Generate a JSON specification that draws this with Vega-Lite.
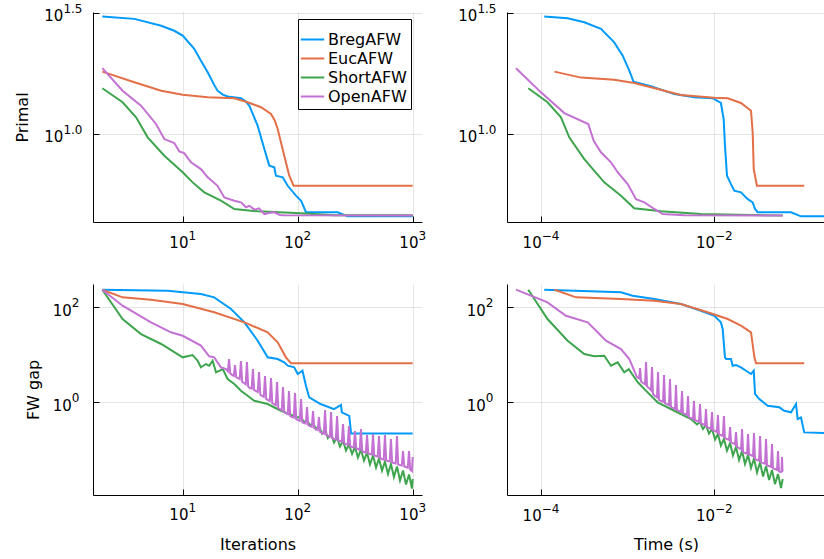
{
"$schema": "https://vega.github.io/schema/vega-lite/v6.json",
"background": "white",
"padding": {"left": 14, "top": 2, "right": 0, "bottom": 0},
"bounds": "flush",
"spacing": {"row": 62, "column": 85},
"columns": 2,
"resolve": {"legend": {"color": "independent"}},
"config": {
  "font": "DejaVu Sans",
  "view": {"stroke": null},
  "text": {"font": "DejaVu Sans", "color": "black"},
  "axis": {"domainColor": "black", "domainWidth": 1, "tickColor": "black", "tickSize": -6, "tickWidth": 1,
    "gridColor": "black", "gridOpacity": 0.1, "gridWidth": 1, "labels": false,
    "titleFont": "DejaVu Sans", "titleFontSize": 16, "titleFontWeight": "normal", "titleColor": "black"},
  "legend": {"strokeWidth": 1}
},
"datasets": {
"ticksIter": [{"v":10,"e":"1"},{"v":100,"e":"2"},{"v":1000,"e":"3"}],
"ticksTime": [{"v":0.0001,"e":"−4"},{"v":0.01,"e":"−2"}],
"ticksPrimal": [{"v":10,"e":"1.0"},{"v":31.6228,"e":"1.5"}],
"ticksGap": [{"v":1,"e":"0"},{"v":100,"e":"2"}],
"primalIter": [
{"s":"BregAFW","iter":2,"primal":30.6},{"s":"BregAFW","iter":3.8,"primal":29.9},{"s":"BregAFW","iter":6.5,"primal":28.0},{"s":"BregAFW","iter":8.45,"primal":26.7},{"s":"BregAFW","iter":10,"primal":25.5},{"s":"BregAFW","iter":12.6,"primal":22.5},{"s":"BregAFW","iter":14.5,"primal":20.0},{"s":"BregAFW","iter":16.5,"primal":18.0},{"s":"BregAFW","iter":18.8,"primal":15.94},{"s":"BregAFW","iter":20.1,"primal":15.1},{"s":"BregAFW","iter":22.3,"primal":14.55},{"s":"BregAFW","iter":24.6,"primal":14.3},{"s":"BregAFW","iter":32.1,"primal":14.05},{"s":"BregAFW","iter":35,"primal":13.7},{"s":"BregAFW","iter":37.9,"primal":13.1},{"s":"BregAFW","iter":41,"primal":12.0},{"s":"BregAFW","iter":44.9,"primal":10.8},{"s":"BregAFW","iter":51.3,"primal":8.67},{"s":"BregAFW","iter":56.6,"primal":7.4},{"s":"BregAFW","iter":62.6,"primal":7.28},{"s":"BregAFW","iter":64.7,"primal":6.73},{"s":"BregAFW","iter":74.1,"primal":6.62},{"s":"BregAFW","iter":81.9,"primal":6.11},{"s":"BregAFW","iter":96.6,"primal":5.56},{"s":"BregAFW","iter":107,"primal":5.30},{"s":"BregAFW","iter":110,"primal":5.14},{"s":"BregAFW","iter":118,"primal":4.75},{"s":"BregAFW","iter":223,"primal":4.75},{"s":"BregAFW","iter":272,"primal":4.57},{"s":"BregAFW","iter":1000,"primal":4.57},
{"s":"EucAFW","iter":2,"primal":18.1},{"s":"EucAFW","iter":3.8,"primal":16.35},{"s":"EucAFW","iter":6.5,"primal":15.1},{"s":"EucAFW","iter":10,"primal":14.54},{"s":"EucAFW","iter":16.5,"primal":14.18},{"s":"EucAFW","iter":28.1,"primal":14.05},{"s":"EucAFW","iter":36.7,"primal":13.52},{"s":"EucAFW","iter":48,"primal":12.9},{"s":"EucAFW","iter":58.6,"primal":12.1},{"s":"EucAFW","iter":63,"primal":11.4},{"s":"EucAFW","iter":67,"primal":10.49},{"s":"EucAFW","iter":76.4,"primal":8.13},{"s":"EucAFW","iter":84.5,"primal":6.73},{"s":"EucAFW","iter":92.2,"primal":6.11},{"s":"EucAFW","iter":1000,"primal":6.11},
{"s":"ShortAFW","iter":2,"primal":15.45},{"s":"ShortAFW","iter":3.0,"primal":13.52},{"s":"ShortAFW","iter":3.93,"primal":11.72},{"s":"ShortAFW","iter":4.96,"primal":9.69},{"s":"ShortAFW","iter":6.92,"primal":8.13},{"s":"ShortAFW","iter":10,"primal":6.95},{"s":"ShortAFW","iter":12.2,"primal":6.31},{"s":"ShortAFW","iter":15.4,"primal":5.74},{"s":"ShortAFW","iter":21.5,"primal":5.30},{"s":"ShortAFW","iter":28.1,"primal":4.90},{"s":"ShortAFW","iter":44.9,"primal":4.79},{"s":"ShortAFW","iter":107,"primal":4.70},{"s":"ShortAFW","iter":208,"primal":4.62},{"s":"ShortAFW","iter":1000,"primal":4.62},
{"s":"OpenAFW","iter":2,"primal":18.7},{"s":"OpenAFW","iter":3.0,"primal":15.1},{"s":"OpenAFW","iter":4.34,"primal":13.1},{"s":"OpenAFW","iter":5.86,"primal":11.0},{"s":"OpenAFW","iter":6.92,"primal":9.53},{"s":"OpenAFW","iter":8.45,"primal":9.18},{"s":"OpenAFW","iter":9.33,"primal":8.48},{"s":"OpenAFW","iter":10.3,"primal":8.34},{"s":"OpenAFW","iter":11.8,"primal":7.64},{"s":"OpenAFW","iter":14.4,"primal":7.16},{"s":"OpenAFW","iter":16.5,"primal":6.62},{"s":"OpenAFW","iter":20.1,"primal":6.11},{"s":"OpenAFW","iter":23.0,"primal":5.47},{"s":"OpenAFW","iter":28.1,"primal":5.30},{"s":"OpenAFW","iter":32.1,"primal":5.22},{"s":"OpenAFW","iter":35.5,"primal":4.98},{"s":"OpenAFW","iter":38,"primal":5.05},{"s":"OpenAFW","iter":42,"primal":4.87},{"s":"OpenAFW","iter":46,"primal":4.93},{"s":"OpenAFW","iter":51.3,"primal":4.67},{"s":"OpenAFW","iter":56,"primal":4.72},{"s":"OpenAFW","iter":62.6,"primal":4.75},{"s":"OpenAFW","iter":70,"primal":4.63},{"s":"OpenAFW","iter":76.4,"primal":4.62},{"s":"OpenAFW","iter":1000,"primal":4.60}
],
"primalTime": [
{"s":"BregAFW","time":0.000109,"primal":30.6},{"s":"BregAFW","time":0.000203,"primal":30.1},{"s":"BregAFW","time":0.000316,"primal":28.95},{"s":"BregAFW","time":0.000492,"primal":27.2},{"s":"BregAFW","time":0.0007,"primal":23.9},{"s":"BregAFW","time":0.000877,"primal":21.07},{"s":"BregAFW","time":0.001045,"primal":18.27},{"s":"BregAFW","time":0.00117,"primal":16.44},{"s":"BregAFW","time":0.00186,"primal":15.74},{"s":"BregAFW","time":0.00345,"primal":14.62},{"s":"BregAFW","time":0.00587,"primal":14.18},{"s":"BregAFW","time":0.00957,"primal":14.05},{"s":"BregAFW","time":0.0119,"primal":13.43},{"s":"BregAFW","time":0.01282,"primal":11.53},{"s":"BregAFW","time":0.01327,"primal":8.95},{"s":"BregAFW","time":0.014,"primal":6.73},{"s":"BregAFW","time":0.01556,"primal":6.21},{"s":"BregAFW","time":0.017,"primal":5.83},{"s":"BregAFW","time":0.0203,"primal":5.74},{"s":"BregAFW","time":0.0243,"primal":5.38},{"s":"BregAFW","time":0.0277,"primal":5.22},{"s":"BregAFW","time":0.0295,"primal":4.9},{"s":"BregAFW","time":0.0316,"primal":4.75},{"s":"BregAFW","time":0.0767,"primal":4.75},{"s":"BregAFW","time":0.1,"primal":4.57},{"s":"BregAFW","time":0.189,"primal":4.57},
{"s":"EucAFW","time":0.000143,"primal":18.1},{"s":"EucAFW","time":0.00029,"primal":17.1},{"s":"EucAFW","time":0.0007,"primal":16.75},{"s":"EucAFW","time":0.00119,"primal":16.25},{"s":"EucAFW","time":0.00222,"primal":15.35},{"s":"EucAFW","time":0.00412,"primal":14.5},{"s":"EucAFW","time":0.01,"primal":14.12},{"s":"EucAFW","time":0.01426,"primal":14.05},{"s":"EucAFW","time":0.0203,"primal":13.43},{"s":"EucAFW","time":0.0265,"primal":12.48},{"s":"EucAFW","time":0.0277,"primal":10.16},{"s":"EucAFW","time":0.0285,"primal":7.16},{"s":"EucAFW","time":0.031,"primal":6.11},{"s":"EucAFW","time":0.109,"primal":6.11},
{"s":"ShortAFW","time":0.0000714,"primal":15.45},{"s":"ShortAFW","time":0.000119,"primal":13.52},{"s":"ShortAFW","time":0.00017,"primal":11.72},{"s":"ShortAFW","time":0.000212,"primal":9.69},{"s":"ShortAFW","time":0.000316,"primal":7.88},{"s":"ShortAFW","time":0.000537,"primal":6.31},{"s":"ShortAFW","time":0.000838,"primal":5.56},{"s":"ShortAFW","time":0.00119,"primal":4.93},{"s":"ShortAFW","time":0.00243,"primal":4.79},{"s":"ShortAFW","time":0.007,"primal":4.67},{"s":"ShortAFW","time":0.0615,"primal":4.60},
{"s":"OpenAFW","time":0.0000515,"primal":18.7},{"s":"OpenAFW","time":0.0001,"primal":14.86},{"s":"OpenAFW","time":0.000186,"primal":12.2},{"s":"OpenAFW","time":0.000351,"primal":11.0},{"s":"OpenAFW","time":0.000406,"primal":9.38},{"s":"OpenAFW","time":0.000492,"primal":8.40},{"s":"OpenAFW","time":0.000642,"primal":7.64},{"s":"OpenAFW","time":0.000767,"primal":6.95},{"s":"OpenAFW","time":0.001,"primal":6.21},{"s":"OpenAFW","time":0.00125,"primal":5.38},{"s":"OpenAFW","time":0.00156,"primal":5.22},{"s":"OpenAFW","time":0.00203,"primal":4.9},{"s":"OpenAFW","time":0.00254,"primal":4.67},{"s":"OpenAFW","time":0.0045,"primal":4.62},{"s":"OpenAFW","time":0.0615,"primal":4.60}
],
"gapIter": [
{"s":"BregAFW","iter":2,"gap":235},{"s":"BregAFW","iter":7.4,"gap":224},{"s":"BregAFW","iter":14.4,"gap":190},{"s":"BregAFW","iter":18.8,"gap":162},{"s":"BregAFW","iter":26.3,"gap":92},{"s":"BregAFW","iter":34.4,"gap":48.3},{"s":"BregAFW","iter":44.9,"gap":19.8},{"s":"BregAFW","iter":54.8,"gap":8.85},{"s":"BregAFW","iter":67,"gap":8.16},{"s":"BregAFW","iter":76.4,"gap":6.95},{"s":"BregAFW","iter":81.9,"gap":5.9},{"s":"BregAFW","iter":93.3,"gap":5.46},{"s":"BregAFW","iter":100,"gap":3.94},{"s":"BregAFW","iter":110,"gap":4.63},{"s":"BregAFW","iter":118,"gap":2.24},{"s":"BregAFW","iter":126,"gap":1.27},{"s":"BregAFW","iter":158,"gap":0.92},{"s":"BregAFW","iter":207,"gap":0.72},{"s":"BregAFW","iter":238,"gap":0.88},{"s":"BregAFW","iter":242,"gap":0.615},{"s":"BregAFW","iter":281,"gap":0.52},{"s":"BregAFW","iter":291,"gap":0.222},{"s":"BregAFW","iter":1000,"gap":0.222},
{"s":"EucAFW","iter":2,"gap":235},{"s":"EucAFW","iter":3.0,"gap":162},{"s":"EucAFW","iter":5.3,"gap":145},{"s":"EucAFW","iter":10,"gap":117.5},{"s":"EucAFW","iter":18.8,"gap":78.5},{"s":"EucAFW","iter":34.4,"gap":48.3},{"s":"EucAFW","iter":54.8,"gap":29.8},{"s":"EucAFW","iter":67,"gap":18.3},{"s":"EucAFW","iter":79,"gap":8.85},{"s":"EucAFW","iter":87.5,"gap":6.62},{"s":"EucAFW","iter":1000,"gap":6.62},
{"s":"ShortAFW","iter":2,"gap":235},{"s":"ShortAFW","iter":3.0,"gap":56.7},{"s":"ShortAFW","iter":4.34,"gap":27.4},{"s":"ShortAFW","iter":6.5,"gap":16.9},{"s":"ShortAFW","iter":10,"gap":8.85},{"s":"ShortAFW","iter":12.2,"gap":9.91},{"s":"ShortAFW","iter":13.5,"gap":7.52},{"s":"ShortAFW","iter":14.4,"gap":5.46},{"s":"ShortAFW","iter":15.9,"gap":6.40},{"s":"ShortAFW","iter":17.0,"gap":5.9},{"s":"ShortAFW","iter":18.2,"gap":7.52},{"s":"ShortAFW","iter":19.5,"gap":4.28},{"s":"ShortAFW","iter":22.3,"gap":5.02},{"s":"ShortAFW","iter":24.6,"gap":3.10},{"s":"ShortAFW","iter":28.1,"gap":2.43},{"s":"ShortAFW","iter":32.1,"gap":1.75},{"s":"ShortAFW","iter":36.7,"gap":1.38},{"s":"ShortAFW","iter":41.9,"gap":1.08},{"s":"ShortAFW","iter":54.8,"gap":0.92},{"s":"ShortAFW","iter":71.5,"gap":0.665},{"s":"ShortAFW","iter":100,"gap":0.483},{"s":"ShortAFW","iter":106.9,"gap":0.479},{"s":"ShortAFW","iter":113.5,"gap":0.385},{"s":"ShortAFW","iter":120.5,"gap":0.424},{"s":"ShortAFW","iter":128,"gap":0.325},{"s":"ShortAFW","iter":136,"gap":0.367},{"s":"ShortAFW","iter":144,"gap":0.274},{"s":"ShortAFW","iter":153,"gap":0.317},{"s":"ShortAFW","iter":163,"gap":0.220},{"s":"ShortAFW","iter":173,"gap":0.261},{"s":"ShortAFW","iter":183,"gap":0.177},{"s":"ShortAFW","iter":195,"gap":0.220},{"s":"ShortAFW","iter":207,"gap":0.1425},{"s":"ShortAFW","iter":220,"gap":0.1815},{"s":"ShortAFW","iter":233,"gap":0.1173},{"s":"ShortAFW","iter":248,"gap":0.153},{"s":"ShortAFW","iter":263,"gap":0.0966},{"s":"ShortAFW","iter":279,"gap":0.1294},{"s":"ShortAFW","iter":297,"gap":0.0817},{"s":"ShortAFW","iter":315,"gap":0.1146},{"s":"ShortAFW","iter":334,"gap":0.0689},{"s":"ShortAFW","iter":355,"gap":0.1014},{"s":"ShortAFW","iter":377,"gap":0.0595},{"s":"ShortAFW","iter":401,"gap":0.0877},{"s":"ShortAFW","iter":425,"gap":0.0491},{"s":"ShortAFW","iter":452,"gap":0.0759},{"s":"ShortAFW","iter":480,"gap":0.0424},{"s":"ShortAFW","iter":509,"gap":0.0656},{"s":"ShortAFW","iter":541,"gap":0.0366},{"s":"ShortAFW","iter":574,"gap":0.0567},{"s":"ShortAFW","iter":610,"gap":0.031},{"s":"ShortAFW","iter":647,"gap":0.0502},{"s":"ShortAFW","iter":687,"gap":0.0267},{"s":"ShortAFW","iter":730,"gap":0.0445},{"s":"ShortAFW","iter":776,"gap":0.0226},{"s":"ShortAFW","iter":824,"gap":0.0366},{"s":"ShortAFW","iter":875,"gap":0.0186},{"s":"ShortAFW","iter":929,"gap":0.0302},{"s":"ShortAFW","iter":986,"gap":0.0153},{"s":"ShortAFW","iter":1000,"gap":0.0243},
{"s":"OpenAFW","iter":2,"gap":235},{"s":"OpenAFW","iter":3.0,"gap":108},{"s":"OpenAFW","iter":5.3,"gap":48.3},{"s":"OpenAFW","iter":7.9,"gap":29.8},{"s":"OpenAFW","iter":10,"gap":25.2},{"s":"OpenAFW","iter":14.4,"gap":15.6},{"s":"OpenAFW","iter":17.0,"gap":9.3},{"s":"OpenAFW","iter":18.8,"gap":8.85},{"s":"OpenAFW","iter":21.5,"gap":5.46},{"s":"OpenAFW","iter":23.8,"gap":5.02},{"s":"OpenAFW","iter":25.3,"gap":8.16},{"s":"OpenAFW","iter":26.8,"gap":3.76},{"s":"OpenAFW","iter":28.5,"gap":6.09},{"s":"OpenAFW","iter":30.3,"gap":3.25},{"s":"OpenAFW","iter":32.1,"gap":7.40},{"s":"OpenAFW","iter":34.1,"gap":2.55},{"s":"OpenAFW","iter":36.2,"gap":7.05},{"s":"OpenAFW","iter":38.5,"gap":2.0},{"s":"OpenAFW","iter":40.8,"gap":5.02},{"s":"OpenAFW","iter":43.4,"gap":1.73},{"s":"OpenAFW","iter":46.1,"gap":4.35},{"s":"OpenAFW","iter":49.0,"gap":1.36},{"s":"OpenAFW","iter":52.0,"gap":3.58},{"s":"OpenAFW","iter":55.2,"gap":1.12},{"s":"OpenAFW","iter":58.6,"gap":3.25},{"s":"OpenAFW","iter":62.2,"gap":0.92},{"s":"OpenAFW","iter":66.1,"gap":2.67},{"s":"OpenAFW","iter":70.2,"gap":0.723},{"s":"OpenAFW","iter":74.5,"gap":2.10},{"s":"OpenAFW","iter":79.1,"gap":0.595},{"s":"OpenAFW","iter":84.0,"gap":1.73},{"s":"OpenAFW","iter":89.2,"gap":0.491},{"s":"OpenAFW","iter":94.8,"gap":1.57},{"s":"OpenAFW","iter":100.7,"gap":0.424},{"s":"OpenAFW","iter":106.9,"gap":1.17},{"s":"OpenAFW","iter":113.5,"gap":0.367},{"s":"OpenAFW","iter":120.5,"gap":0.796},{"s":"OpenAFW","iter":128,"gap":0.317},{"s":"OpenAFW","iter":136,"gap":0.656},{"s":"OpenAFW","iter":144,"gap":0.274},{"s":"OpenAFW","iter":153,"gap":0.491},{"s":"OpenAFW","iter":163,"gap":0.226},{"s":"OpenAFW","iter":173,"gap":0.689},{"s":"OpenAFW","iter":183,"gap":0.195},{"s":"OpenAFW","iter":195,"gap":0.625},{"s":"OpenAFW","iter":207,"gap":0.169},{"s":"OpenAFW","iter":220,"gap":0.515},{"s":"OpenAFW","iter":233,"gap":0.153},{"s":"OpenAFW","iter":248,"gap":0.349},{"s":"OpenAFW","iter":263,"gap":0.132},{"s":"OpenAFW","iter":279,"gap":0.317},{"s":"OpenAFW","iter":297,"gap":0.115},{"s":"OpenAFW","iter":315,"gap":0.249},{"s":"OpenAFW","iter":334,"gap":0.104},{"s":"OpenAFW","iter":355,"gap":0.274},{"s":"OpenAFW","iter":377,"gap":0.0899},{"s":"OpenAFW","iter":401,"gap":0.205},{"s":"OpenAFW","iter":425,"gap":0.0817},{"s":"OpenAFW","iter":452,"gap":0.215},{"s":"OpenAFW","iter":480,"gap":0.0741},{"s":"OpenAFW","iter":509,"gap":0.195},{"s":"OpenAFW","iter":541,"gap":0.064},{"s":"OpenAFW","iter":574,"gap":0.205},{"s":"OpenAFW","iter":610,"gap":0.0581},{"s":"OpenAFW","iter":647,"gap":0.169},{"s":"OpenAFW","iter":687,"gap":0.0527},{"s":"OpenAFW","iter":730,"gap":0.195},{"s":"OpenAFW","iter":776,"gap":0.0479},{"s":"OpenAFW","iter":824,"gap":0.0944},{"s":"OpenAFW","iter":875,"gap":0.0434},{"s":"OpenAFW","iter":929,"gap":0.0944},{"s":"OpenAFW","iter":986,"gap":0.0358},{"s":"OpenAFW","iter":1000,"gap":0.0706},
{"s":"OpenAFW","iter":24.7,"gap":4.5},{"s":"OpenAFW","iter":25.9,"gap":4.1},{"s":"OpenAFW","iter":27.8,"gap":3.6},{"s":"OpenAFW","iter":29.2,"gap":3.4},{"s":"OpenAFW","iter":31.3,"gap":3.1},{"s":"OpenAFW","iter":32.9,"gap":2.7},{"s":"OpenAFW","iter":35.3,"gap":2.4},{"s":"OpenAFW","iter":37.1,"gap":2.15},{"s":"OpenAFW","iter":39.8,"gap":1.95},{"s":"OpenAFW","iter":41.8,"gap":1.8},{"s":"OpenAFW","iter":45.0,"gap":1.65},{"s":"OpenAFW","iter":47.3,"gap":1.45},{"s":"OpenAFW","iter":50.7,"gap":1.3},{"s":"OpenAFW","iter":53.3,"gap":1.17},{"s":"OpenAFW","iter":57.2,"gap":1.07},{"s":"OpenAFW","iter":60.1,"gap":0.96},{"s":"OpenAFW","iter":64.5,"gap":0.87},{"s":"OpenAFW","iter":67.8,"gap":0.76},{"s":"OpenAFW","iter":72.7,"gap":0.69},{"s":"OpenAFW","iter":76.4,"gap":0.62},{"s":"OpenAFW","iter":82.0,"gap":0.565},{"s":"OpenAFW","iter":86.1,"gap":0.515},{"s":"OpenAFW","iter":92.5,"gap":0.475},{"s":"OpenAFW","iter":97.2,"gap":0.44},{"s":"OpenAFW","iter":104.3,"gap":0.41},{"s":"OpenAFW","iter":109.6,"gap":0.38},{"s":"OpenAFW","iter":117.6,"gap":0.355},{"s":"OpenAFW","iter":123.5,"gap":0.33},{"s":"OpenAFW","iter":132.7,"gap":0.305},{"s":"OpenAFW","iter":139.4,"gap":0.285},{"s":"OpenAFW","iter":149.3,"gap":0.26},{"s":"OpenAFW","iter":156.8,"gap":0.238},{"s":"OpenAFW","iter":168.8,"gap":0.218},{"s":"OpenAFW","iter":177.3,"gap":0.203},{"s":"OpenAFW","iter":190.2,"gap":0.188},{"s":"OpenAFW","iter":199.9,"gap":0.175},{"s":"OpenAFW","iter":214.6,"gap":0.165},{"s":"OpenAFW","iter":225.5,"gap":0.157},{"s":"OpenAFW","iter":242,"gap":0.148},{"s":"OpenAFW","iter":254,"gap":0.137},{"s":"OpenAFW","iter":272,"gap":0.128},{"s":"OpenAFW","iter":286,"gap":0.119},{"s":"OpenAFW","iter":307,"gap":0.112},{"s":"OpenAFW","iter":323,"gap":0.107},{"s":"OpenAFW","iter":346,"gap":0.1},{"s":"OpenAFW","iter":364,"gap":0.093},{"s":"OpenAFW","iter":391,"gap":0.088},{"s":"OpenAFW","iter":411,"gap":0.084},{"s":"OpenAFW","iter":441,"gap":0.08},{"s":"OpenAFW","iter":463,"gap":0.076},{"s":"OpenAFW","iter":497,"gap":0.072},{"s":"OpenAFW","iter":522,"gap":0.066},{"s":"OpenAFW","iter":560,"gap":0.0625},{"s":"OpenAFW","iter":588,"gap":0.0595},{"s":"OpenAFW","iter":631,"gap":0.057},{"s":"OpenAFW","iter":663,"gap":0.054},{"s":"OpenAFW","iter":712,"gap":0.0515},{"s":"OpenAFW","iter":748,"gap":0.049},{"s":"OpenAFW","iter":804,"gap":0.047},{"s":"OpenAFW","iter":845,"gap":0.0445},{"s":"OpenAFW","iter":906,"gap":0.042},{"s":"OpenAFW","iter":952,"gap":0.038},{"s":"OpenAFW","iter":976,"gap":0.0365}
],
"gapTime": [
{"s":"BregAFW","time":0.000109,"gap":235},{"s":"BregAFW","time":0.000838,"gap":207},{"s":"BregAFW","time":0.00114,"gap":175},{"s":"BregAFW","time":0.00203,"gap":150},{"s":"BregAFW","time":0.00412,"gap":117.5},{"s":"BregAFW","time":0.007,"gap":84.8},{"s":"BregAFW","time":0.01,"gap":66.5},{"s":"BregAFW","time":0.0119,"gap":48.3},{"s":"BregAFW","time":0.01248,"gap":34.9},{"s":"BregAFW","time":0.01327,"gap":8.85},{"s":"BregAFW","time":0.01365,"gap":8.16},{"s":"BregAFW","time":0.01556,"gap":8.16},{"s":"BregAFW","time":0.0163,"gap":5.90},{"s":"BregAFW","time":0.0178,"gap":6.1},{"s":"BregAFW","time":0.0203,"gap":5.46},{"s":"BregAFW","time":0.0232,"gap":4.63},{"s":"BregAFW","time":0.0265,"gap":3.94},{"s":"BregAFW","time":0.0285,"gap":4.63},{"s":"BregAFW","time":0.0295,"gap":1.50},{"s":"BregAFW","time":0.033,"gap":1.17},{"s":"BregAFW","time":0.0413,"gap":0.849},{"s":"BregAFW","time":0.0562,"gap":0.785},{"s":"BregAFW","time":0.0642,"gap":0.665},{"s":"BregAFW","time":0.0767,"gap":0.616},{"s":"BregAFW","time":0.0876,"gap":0.92},{"s":"BregAFW","time":0.0916,"gap":0.445},{"s":"BregAFW","time":0.1,"gap":0.48},{"s":"BregAFW","time":0.109,"gap":0.233},{"s":"BregAFW","time":0.189,"gap":0.226},
{"s":"EucAFW","time":0.000143,"gap":235},{"s":"EucAFW","time":0.000254,"gap":162},{"s":"EucAFW","time":0.000838,"gap":150},{"s":"EucAFW","time":0.00203,"gap":138},{"s":"EucAFW","time":0.00412,"gap":117.5},{"s":"EucAFW","time":0.00837,"gap":78.5},{"s":"EucAFW","time":0.01426,"gap":56.7},{"s":"EucAFW","time":0.0203,"gap":41},{"s":"EucAFW","time":0.0265,"gap":29.8},{"s":"EucAFW","time":0.029,"gap":8.85},{"s":"EucAFW","time":0.0303,"gap":6.62},{"s":"EucAFW","time":0.109,"gap":6.62},
{"s":"ShortAFW","time":0.0000714,"gap":235},{"s":"ShortAFW","time":0.000119,"gap":56.7},{"s":"ShortAFW","time":0.000203,"gap":19.8},{"s":"ShortAFW","time":0.000316,"gap":10.4},{"s":"ShortAFW","time":0.000412,"gap":9.3},{"s":"ShortAFW","time":0.000537,"gap":9.6},{"s":"ShortAFW","time":0.000642,"gap":5.9},{"s":"ShortAFW","time":0.000767,"gap":6.95},{"s":"ShortAFW","time":0.000914,"gap":4.28},{"s":"ShortAFW","time":0.00103,"gap":5.0},{"s":"ShortAFW","time":0.00131,"gap":2.64},{"s":"ShortAFW","time":0.0017,"gap":1.62},{"s":"ShortAFW","time":0.00222,"gap":1.0},{"s":"ShortAFW","time":0.00345,"gap":0.665},{"s":"ShortAFW","time":0.00538,"gap":0.445},{"s":"ShortAFW","time":0.00631,"gap":0.341},{"s":"ShortAFW","time":0.00684,"gap":0.385},{"s":"ShortAFW","time":0.0074,"gap":0.274},{"s":"ShortAFW","time":0.00801,"gap":0.333},{"s":"ShortAFW","time":0.00868,"gap":0.220},{"s":"ShortAFW","time":0.0094,"gap":0.274},{"s":"ShortAFW","time":0.0102,"gap":0.165},{"s":"ShortAFW","time":0.011,"gap":0.215},{"s":"ShortAFW","time":0.0119,"gap":0.123},{"s":"ShortAFW","time":0.0129,"gap":0.169},{"s":"ShortAFW","time":0.014,"gap":0.0966},{"s":"ShortAFW","time":0.0152,"gap":0.139},{"s":"ShortAFW","time":0.0164,"gap":0.0759},{"s":"ShortAFW","time":0.0178,"gap":0.1146},{"s":"ShortAFW","time":0.0193,"gap":0.061},{"s":"ShortAFW","time":0.0209,"gap":0.0944},{"s":"ShortAFW","time":0.0226,"gap":0.0502},{"s":"ShortAFW","time":0.0245,"gap":0.0778},{"s":"ShortAFW","time":0.0265,"gap":0.0414},{"s":"ShortAFW","time":0.0287,"gap":0.0656},{"s":"ShortAFW","time":0.0311,"gap":0.0333},{"s":"ShortAFW","time":0.0337,"gap":0.054},{"s":"ShortAFW","time":0.0365,"gap":0.0274},{"s":"ShortAFW","time":0.0395,"gap":0.0456},{"s":"ShortAFW","time":0.0428,"gap":0.0231},{"s":"ShortAFW","time":0.0463,"gap":0.0376},{"s":"ShortAFW","time":0.0501,"gap":0.019},{"s":"ShortAFW","time":0.0543,"gap":0.031},{"s":"ShortAFW","time":0.0588,"gap":0.0157},{"s":"ShortAFW","time":0.0615,"gap":0.0243},
{"s":"OpenAFW","time":0.0000515,"gap":235},{"s":"OpenAFW","time":0.000119,"gap":127},{"s":"OpenAFW","time":0.000194,"gap":66.5},{"s":"OpenAFW","time":0.000346,"gap":48.3},{"s":"OpenAFW","time":0.000451,"gap":29.8},{"s":"OpenAFW","time":0.000562,"gap":19.8},{"s":"OpenAFW","time":0.000838,"gap":13.2},{"s":"OpenAFW","time":0.001045,"gap":8.16},{"s":"OpenAFW","time":0.00128,"gap":3.41},{"s":"OpenAFW","time":0.00139,"gap":5.27},{"s":"OpenAFW","time":0.0015,"gap":2.55},{"s":"OpenAFW","time":0.00163,"gap":7.05},{"s":"OpenAFW","time":0.00176,"gap":2.0},{"s":"OpenAFW","time":0.00191,"gap":5.53},{"s":"OpenAFW","time":0.00207,"gap":1.36},{"s":"OpenAFW","time":0.00224,"gap":4.35},{"s":"OpenAFW","time":0.00243,"gap":1.065},{"s":"OpenAFW","time":0.00263,"gap":3.76},{"s":"OpenAFW","time":0.00284,"gap":0.92},{"s":"OpenAFW","time":0.00308,"gap":3.10},{"s":"OpenAFW","time":0.00333,"gap":0.759},{"s":"OpenAFW","time":0.00361,"gap":2.31},{"s":"OpenAFW","time":0.00391,"gap":0.656},{"s":"OpenAFW","time":0.00424,"gap":1.73},{"s":"OpenAFW","time":0.00459,"gap":0.567},{"s":"OpenAFW","time":0.00497,"gap":1.36},{"s":"OpenAFW","time":0.00538,"gap":0.467},{"s":"OpenAFW","time":0.00582,"gap":1.065},{"s":"OpenAFW","time":0.00631,"gap":0.404},{"s":"OpenAFW","time":0.00684,"gap":0.92},{"s":"OpenAFW","time":0.0074,"gap":0.349},{"s":"OpenAFW","time":0.00801,"gap":0.723},{"s":"OpenAFW","time":0.00868,"gap":0.288},{"s":"OpenAFW","time":0.0094,"gap":0.625},{"s":"OpenAFW","time":0.0102,"gap":0.249},{"s":"OpenAFW","time":0.011,"gap":0.541},{"s":"OpenAFW","time":0.0119,"gap":0.205},{"s":"OpenAFW","time":0.0129,"gap":0.515},{"s":"OpenAFW","time":0.014,"gap":0.169},{"s":"OpenAFW","time":0.0152,"gap":0.302},{"s":"OpenAFW","time":0.0164,"gap":0.139},{"s":"OpenAFW","time":0.0178,"gap":0.237},{"s":"OpenAFW","time":0.0193,"gap":0.109},{"s":"OpenAFW","time":0.0209,"gap":0.274},{"s":"OpenAFW","time":0.0226,"gap":0.0857},{"s":"OpenAFW","time":0.0245,"gap":0.215},{"s":"OpenAFW","time":0.0265,"gap":0.0778},{"s":"OpenAFW","time":0.0287,"gap":0.226},{"s":"OpenAFW","time":0.0311,"gap":0.061},{"s":"OpenAFW","time":0.0337,"gap":0.195},{"s":"OpenAFW","time":0.0365,"gap":0.0527},{"s":"OpenAFW","time":0.0395,"gap":0.169},{"s":"OpenAFW","time":0.0428,"gap":0.0456},{"s":"OpenAFW","time":0.0463,"gap":0.132},{"s":"OpenAFW","time":0.0501,"gap":0.0394},{"s":"OpenAFW","time":0.0543,"gap":0.0944},{"s":"OpenAFW","time":0.0573,"gap":0.0341},{"s":"OpenAFW","time":0.0604,"gap":0.0705},{"s":"OpenAFW","time":0.0615,"gap":0.0358},
{"s":"OpenAFW","time":0.001354,"gap":3.2},{"s":"OpenAFW","time":0.001427,"gap":2.75},{"s":"OpenAFW","time":0.001587,"gap":2.4},{"s":"OpenAFW","time":0.001674,"gap":2.15},{"s":"OpenAFW","time":0.00186,"gap":1.8},{"s":"OpenAFW","time":0.00196,"gap":1.5},{"s":"OpenAFW","time":0.00218,"gap":1.28},{"s":"OpenAFW","time":0.0023,"gap":1.13},{"s":"OpenAFW","time":0.00256,"gap":1.03},{"s":"OpenAFW","time":0.0027,"gap":0.95},{"s":"OpenAFW","time":0.0030,"gap":0.875},{"s":"OpenAFW","time":0.00316,"gap":0.8},{"s":"OpenAFW","time":0.00352,"gap":0.73},{"s":"OpenAFW","time":0.00371,"gap":0.68},{"s":"OpenAFW","time":0.00413,"gap":0.63},{"s":"OpenAFW","time":0.00435,"gap":0.59},{"s":"OpenAFW","time":0.00484,"gap":0.54},{"s":"OpenAFW","time":0.0051,"gap":0.49},{"s":"OpenAFW","time":0.00567,"gap":0.45},{"s":"OpenAFW","time":0.00598,"gap":0.42},{"s":"OpenAFW","time":0.00666,"gap":0.39},{"s":"OpenAFW","time":0.00702,"gap":0.36},{"s":"OpenAFW","time":0.0078,"gap":0.33},{"s":"OpenAFW","time":0.00823,"gap":0.3},{"s":"OpenAFW","time":0.00915,"gap":0.278},{"s":"OpenAFW","time":0.00965,"gap":0.258},{"s":"OpenAFW","time":0.01071,"gap":0.237},{"s":"OpenAFW","time":0.0113,"gap":0.215},{"s":"OpenAFW","time":0.01256,"gap":0.196},{"s":"OpenAFW","time":0.01325,"gap":0.177},{"s":"OpenAFW","time":0.0148,"gap":0.161},{"s":"OpenAFW","time":0.0156,"gap":0.146},{"s":"OpenAFW","time":0.01733,"gap":0.131},{"s":"OpenAFW","time":0.01828,"gap":0.116},{"s":"OpenAFW","time":0.02035,"gap":0.103},{"s":"OpenAFW","time":0.02146,"gap":0.091},{"s":"OpenAFW","time":0.02386,"gap":0.083},{"s":"OpenAFW","time":0.02516,"gap":0.08},{"s":"OpenAFW","time":0.02795,"gap":0.074},{"s":"OpenAFW","time":0.02947,"gap":0.065},{"s":"OpenAFW","time":0.03282,"gap":0.059},{"s":"OpenAFW","time":0.03461,"gap":0.055},{"s":"OpenAFW","time":0.03847,"gap":0.051},{"s":"OpenAFW","time":0.04056,"gap":0.047},{"s":"OpenAFW","time":0.04509,"gap":0.044},{"s":"OpenAFW","time":0.04754,"gap":0.041},{"s":"OpenAFW","time":0.05288,"gap":0.038},{"s":"OpenAFW","time":0.05576,"gap":0.0355},{"s":"OpenAFW","time":0.0595,"gap":0.0345},{"s":"OpenAFW","time":0.0612,"gap":0.035}
]
},
"concat": [
{
  "width": 329, "height": 210,
  "layer": [
    {"data": {"name": "primalIter"},
     "mark": {"type": "line", "clip": true, "strokeWidth": 2},
     "encoding": {
      "x": {"field": "iter", "type": "quantitative", "scale": {"type": "log", "domain": [1.6596, 1205], "nice": false}, "axis": {"values": [10, 100, 1000], "title": null}},
      "y": {"field": "primal", "type": "quantitative", "scale": {"type": "log", "domain": [4.329, 31.92], "nice": false}, "axis": {"values": [10, 31.6228], "title": "Primal", "titleX": -65.5, "titleBaseline": "alphabetic"}},
      "color": {"field": "s", "type": "nominal",
        "scale": {"domain": ["BregAFW", "EucAFW", "ShortAFW", "OpenAFW"], "range": ["#009AFA", "#E36F47", "#3EA44E", "#C371D2"]},
        "legend": {"orient": "none", "legendX": 205, "legendY": 7, "title": " ", "titleFontSize": 5, "titlePadding": 1, "symbolType": "M-1.3,0L1.3,0", "symbolSize": 325, "symbolStrokeWidth": 2,
          "labelFontSize": 16, "labelFont": "DejaVu Sans", "labelColor": "black", "fillColor": "white", "strokeColor": "black", "padding": 4, "rowPadding": 0, "labelOffset": 5}}
     }},
    {"data": {"name": "ticksIter"}, "mark": {"type": "text", "text": "10", "align": "right", "baseline": "alphabetic", "dx": 5.75, "dy": 26, "fontSize": 15},
     "encoding": {"x": {"field": "v", "type": "quantitative", "scale": {"type": "log", "domain": [1.6596, 1205], "nice": false}, "axis": {"values": [10, 100, 1000], "title": null}},
                  "y": {"datum": 4.329, "type": "quantitative", "scale": {"type": "log", "domain": [4.329, 31.92], "nice": false}, "axis": {"values": [10, 31.6228], "title": "Primal", "titleX": -65.5, "titleBaseline": "alphabetic"}}}},
    {"data": {"name": "ticksIter"}, "mark": {"type": "text", "align": "left", "baseline": "alphabetic", "dx": 5.75, "dy": 18, "fontSize": 12},
     "encoding": {"x": {"field": "v", "type": "quantitative", "scale": {"type": "log", "domain": [1.6596, 1205], "nice": false}, "axis": {"values": [10, 100, 1000], "title": null}},
                  "y": {"datum": 4.329, "type": "quantitative", "scale": {"type": "log", "domain": [4.329, 31.92], "nice": false}, "axis": {"values": [10, 31.6228], "title": "Primal", "titleX": -65.5, "titleBaseline": "alphabetic"}},
                  "text": {"field": "e"}}},
    {"data": {"name": "ticksPrimal"}, "mark": {"type": "text", "text": "10", "align": "right", "baseline": "alphabetic", "dx": -29.6, "dy": 8.5, "fontSize": 15},
     "encoding": {"y": {"field": "v", "type": "quantitative", "scale": {"type": "log", "domain": [4.329, 31.92], "nice": false}, "axis": {"values": [10, 31.6228], "title": "Primal", "titleX": -65.5, "titleBaseline": "alphabetic"}},
                  "x": {"datum": 1.6596, "type": "quantitative", "scale": {"type": "log", "domain": [1.6596, 1205], "nice": false}, "axis": {"values": [10, 100, 1000], "title": null}}}},
    {"data": {"name": "ticksPrimal"}, "mark": {"type": "text", "align": "right", "baseline": "alphabetic", "dx": -10.5, "dy": 0, "fontSize": 12},
     "encoding": {"y": {"field": "v", "type": "quantitative", "scale": {"type": "log", "domain": [4.329, 31.92], "nice": false}, "axis": {"values": [10, 31.6228], "title": "Primal", "titleX": -65.5, "titleBaseline": "alphabetic"}},
                  "x": {"datum": 1.6596, "type": "quantitative", "scale": {"type": "log", "domain": [1.6596, 1205], "nice": false}, "axis": {"values": [10, 100, 1000], "title": null}},
                  "text": {"field": "e"}}}
  ]
},
{
  "width": 318, "height": 210,
  "layer": [
    {"data": {"name": "primalTime"},
     "mark": {"type": "line", "clip": true, "strokeWidth": 2},
     "encoding": {
      "x": {"field": "time", "type": "quantitative", "scale": {"type": "log", "domain": [0.00004055, 0.1892], "nice": false}, "axis": {"values": [0.0001, 0.01], "title": null}},
      "y": {"field": "primal", "type": "quantitative", "scale": {"type": "log", "domain": [4.329, 31.92], "nice": false}, "axis": {"values": [10, 31.6228], "title": null}},
      "color": {"field": "s", "type": "nominal",
        "scale": {"domain": ["BregAFW", "EucAFW", "ShortAFW", "OpenAFW"], "range": ["#009AFA", "#E36F47", "#3EA44E", "#C371D2"]}, "legend": null}
     }},
    {"data": {"name": "ticksTime"}, "mark": {"type": "text", "text": "10", "align": "right", "baseline": "alphabetic", "dx": 0.7, "dy": 26, "fontSize": 15},
     "encoding": {"x": {"field": "v", "type": "quantitative", "scale": {"type": "log", "domain": [0.00004055, 0.1892], "nice": false}, "axis": {"values": [0.0001, 0.01], "title": null}},
                  "y": {"datum": 4.329, "type": "quantitative", "scale": {"type": "log", "domain": [4.329, 31.92], "nice": false}, "axis": {"values": [10, 31.6228], "title": null}}}},
    {"data": {"name": "ticksTime"}, "mark": {"type": "text", "align": "left", "baseline": "alphabetic", "dx": 0.7, "dy": 18, "fontSize": 12},
     "encoding": {"x": {"field": "v", "type": "quantitative", "scale": {"type": "log", "domain": [0.00004055, 0.1892], "nice": false}, "axis": {"values": [0.0001, 0.01], "title": null}},
                  "y": {"datum": 4.329, "type": "quantitative", "scale": {"type": "log", "domain": [4.329, 31.92], "nice": false}, "axis": {"values": [10, 31.6228], "title": null}},
                  "text": {"field": "e"}}},
    {"data": {"name": "ticksPrimal"}, "mark": {"type": "text", "text": "10", "align": "right", "baseline": "alphabetic", "dx": -29.6, "dy": 8.5, "fontSize": 15},
     "encoding": {"y": {"field": "v", "type": "quantitative", "scale": {"type": "log", "domain": [4.329, 31.92], "nice": false}, "axis": {"values": [10, 31.6228], "title": null}},
                  "x": {"datum": 0.00004055, "type": "quantitative", "scale": {"type": "log", "domain": [0.00004055, 0.1892], "nice": false}, "axis": {"values": [0.0001, 0.01], "title": null}}}},
    {"data": {"name": "ticksPrimal"}, "mark": {"type": "text", "align": "right", "baseline": "alphabetic", "dx": -10.5, "dy": 0, "fontSize": 12},
     "encoding": {"y": {"field": "v", "type": "quantitative", "scale": {"type": "log", "domain": [4.329, 31.92], "nice": false}, "axis": {"values": [10, 31.6228], "title": null}},
                  "x": {"datum": 0.00004055, "type": "quantitative", "scale": {"type": "log", "domain": [0.00004055, 0.1892], "nice": false}, "axis": {"values": [0.0001, 0.01], "title": null}},
                  "text": {"field": "e"}}}
  ]
},
{
  "width": 329, "height": 211,
  "layer": [
    {"data": {"name": "gapIter"},
     "mark": {"type": "line", "clip": true, "strokeWidth": 2},
     "encoding": {
      "x": {"field": "iter", "type": "quantitative", "scale": {"type": "log", "domain": [1.6596, 1205], "nice": false}, "axis": {"values": [10, 100, 1000], "title": "Iterations", "titleBaseline": "alphabetic", "titleY": 54}},
      "y": {"field": "gap", "type": "quantitative", "scale": {"type": "log", "domain": [0.0112, 309.7], "nice": false}, "axis": {"values": [1, 100], "title": "FW gap", "titleX": -54.5, "titleBaseline": "alphabetic"}},
      "color": {"field": "s", "type": "nominal",
        "scale": {"domain": ["BregAFW", "EucAFW", "ShortAFW", "OpenAFW"], "range": ["#009AFA", "#E36F47", "#3EA44E", "#C371D2"]}, "legend": null}
     }},
    {"data": {"name": "ticksIter"}, "mark": {"type": "text", "text": "10", "align": "right", "baseline": "alphabetic", "dx": 5.75, "dy": 25, "fontSize": 15},
     "encoding": {"x": {"field": "v", "type": "quantitative", "scale": {"type": "log", "domain": [1.6596, 1205], "nice": false}, "axis": {"values": [10, 100, 1000], "title": "Iterations", "titleBaseline": "alphabetic", "titleY": 54}},
                  "y": {"datum": 0.0112, "type": "quantitative", "scale": {"type": "log", "domain": [0.0112, 309.7], "nice": false}, "axis": {"values": [1, 100], "title": "FW gap", "titleX": -54.5, "titleBaseline": "alphabetic"}}}},
    {"data": {"name": "ticksIter"}, "mark": {"type": "text", "align": "left", "baseline": "alphabetic", "dx": 5.75, "dy": 17, "fontSize": 12},
     "encoding": {"x": {"field": "v", "type": "quantitative", "scale": {"type": "log", "domain": [1.6596, 1205], "nice": false}, "axis": {"values": [10, 100, 1000], "title": "Iterations", "titleBaseline": "alphabetic", "titleY": 54}},
                  "y": {"datum": 0.0112, "type": "quantitative", "scale": {"type": "log", "domain": [0.0112, 309.7], "nice": false}, "axis": {"values": [1, 100], "title": "FW gap", "titleX": -54.5, "titleBaseline": "alphabetic"}},
                  "text": {"field": "e"}}},
    {"data": {"name": "ticksGap"}, "mark": {"type": "text", "text": "10", "align": "right", "baseline": "alphabetic", "dx": -21.1, "dy": 9, "fontSize": 15},
     "encoding": {"y": {"field": "v", "type": "quantitative", "scale": {"type": "log", "domain": [0.0112, 309.7], "nice": false}, "axis": {"values": [1, 100], "title": "FW gap", "titleX": -54.5, "titleBaseline": "alphabetic"}},
                  "x": {"datum": 1.6596, "type": "quantitative", "scale": {"type": "log", "domain": [1.6596, 1205], "nice": false}, "axis": {"values": [10, 100, 1000], "title": "Iterations", "titleBaseline": "alphabetic", "titleY": 54}}}},
    {"data": {"name": "ticksGap"}, "mark": {"type": "text", "align": "right", "baseline": "alphabetic", "dx": -13.5, "dy": 0, "fontSize": 12},
     "encoding": {"y": {"field": "v", "type": "quantitative", "scale": {"type": "log", "domain": [0.0112, 309.7], "nice": false}, "axis": {"values": [1, 100], "title": "FW gap", "titleX": -54.5, "titleBaseline": "alphabetic"}},
                  "x": {"datum": 1.6596, "type": "quantitative", "scale": {"type": "log", "domain": [1.6596, 1205], "nice": false}, "axis": {"values": [10, 100, 1000], "title": "Iterations", "titleBaseline": "alphabetic", "titleY": 54}},
                  "text": {"field": "e"}}}
  ]
},
{
  "width": 318, "height": 211,
  "layer": [
    {"data": {"name": "gapTime"},
     "mark": {"type": "line", "clip": true, "strokeWidth": 2},
     "encoding": {
      "x": {"field": "time", "type": "quantitative", "scale": {"type": "log", "domain": [0.00004055, 0.1892], "nice": false}, "axis": {"values": [0.0001, 0.01], "title": "Time (s)", "titleBaseline": "alphabetic", "titleY": 54}},
      "y": {"field": "gap", "type": "quantitative", "scale": {"type": "log", "domain": [0.0112, 309.7], "nice": false}, "axis": {"values": [1, 100], "title": null}},
      "color": {"field": "s", "type": "nominal",
        "scale": {"domain": ["BregAFW", "EucAFW", "ShortAFW", "OpenAFW"], "range": ["#009AFA", "#E36F47", "#3EA44E", "#C371D2"]}, "legend": null}
     }},
    {"data": {"name": "ticksTime"}, "mark": {"type": "text", "text": "10", "align": "right", "baseline": "alphabetic", "dx": 0.7, "dy": 26, "fontSize": 15},
     "encoding": {"x": {"field": "v", "type": "quantitative", "scale": {"type": "log", "domain": [0.00004055, 0.1892], "nice": false}, "axis": {"values": [0.0001, 0.01], "title": "Time (s)", "titleBaseline": "alphabetic", "titleY": 54}},
                  "y": {"datum": 0.0112, "type": "quantitative", "scale": {"type": "log", "domain": [0.0112, 309.7], "nice": false}, "axis": {"values": [1, 100], "title": null}}}},
    {"data": {"name": "ticksTime"}, "mark": {"type": "text", "align": "left", "baseline": "alphabetic", "dx": 0.7, "dy": 18, "fontSize": 12},
     "encoding": {"x": {"field": "v", "type": "quantitative", "scale": {"type": "log", "domain": [0.00004055, 0.1892], "nice": false}, "axis": {"values": [0.0001, 0.01], "title": "Time (s)", "titleBaseline": "alphabetic", "titleY": 54}},
                  "y": {"datum": 0.0112, "type": "quantitative", "scale": {"type": "log", "domain": [0.0112, 309.7], "nice": false}, "axis": {"values": [1, 100], "title": null}},
                  "text": {"field": "e"}}},
    {"data": {"name": "ticksGap"}, "mark": {"type": "text", "text": "10", "align": "right", "baseline": "alphabetic", "dx": -21.1, "dy": 9, "fontSize": 15},
     "encoding": {"y": {"field": "v", "type": "quantitative", "scale": {"type": "log", "domain": [0.0112, 309.7], "nice": false}, "axis": {"values": [1, 100], "title": null}},
                  "x": {"datum": 0.00004055, "type": "quantitative", "scale": {"type": "log", "domain": [0.00004055, 0.1892], "nice": false}, "axis": {"values": [0.0001, 0.01], "title": "Time (s)", "titleBaseline": "alphabetic", "titleY": 54}}}},
    {"data": {"name": "ticksGap"}, "mark": {"type": "text", "align": "right", "baseline": "alphabetic", "dx": -13.5, "dy": 0, "fontSize": 12},
     "encoding": {"y": {"field": "v", "type": "quantitative", "scale": {"type": "log", "domain": [0.0112, 309.7], "nice": false}, "axis": {"values": [1, 100], "title": null}},
                  "x": {"datum": 0.00004055, "type": "quantitative", "scale": {"type": "log", "domain": [0.00004055, 0.1892], "nice": false}, "axis": {"values": [0.0001, 0.01], "title": "Time (s)", "titleBaseline": "alphabetic", "titleY": 54}},
                  "text": {"field": "e"}}}
  ]
}
]
}
